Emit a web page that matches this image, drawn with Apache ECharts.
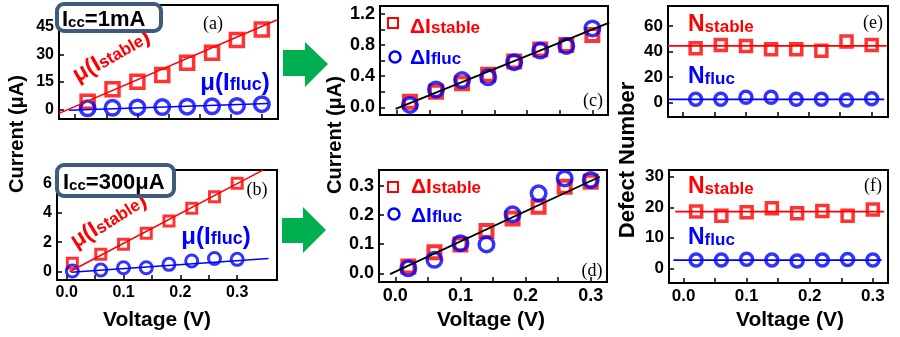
<!DOCTYPE html>
<html>
<head>
<meta charset="utf-8">
<script src="https://cdn.jsdelivr.net/npm/echarts@6/dist/echarts.min.js"></script>
<style>
  html, body { margin: 0; padding: 0; background: #fff; }
  #chart { width: 900px; height: 337px; }
</style>
</head>
<body>
<div id="chart"></div>
<script>
// x values (V)
const voltage = [0.02, 0.06, 0.10, 0.14, 0.18, 0.22, 0.26, 0.30];
const voltageB = [0.01, 0.06, 0.10, 0.14, 0.18, 0.22, 0.26, 0.30];

// (a) Icc = 1mA, mean currents (uA)
const muStableA = [4.1, 10.9, 15.0, 18.7, 25.4, 30.9, 37.8, 43.6];
const muFlucA = [0.5, 0.8, 1.0, 1.2, 1.4, 1.6, 1.8, 2.8];
// (b) Icc = 300uA
const muStableB = [0.57, 1.18, 1.86, 2.6, 3.44, 4.3, 5.08, 5.99];
const muFlucB = [0.05, 0.12, 0.27, 0.27, 0.5, 0.73, 0.9, 0.84];
// (c), (d) amplitudes (uA)
const dStableC = [0.07, 0.2, 0.31, 0.42, 0.59, 0.745, 0.80, 0.93];
const dFlucC = [0.03, 0.23, 0.35, 0.385, 0.58, 0.73, 0.79, 1.015];
const dStableD = [0.023, 0.072, 0.099, 0.145, 0.188, 0.228, 0.297, 0.314];
const dFlucD = [0.017, 0.046, 0.103, 0.099, 0.202, 0.274, 0.325, 0.32];
// (e), (f) defect numbers
const nStableE = [42.5, 45, 44.3, 41.7, 41.7, 40.6, 47.7, 45];
const nFlucE = [2.6, 2.6, 4.2, 4.2, 2.6, 2.6, 2.0, 3.0];
const nStableF = [18.6, 17.2, 18.4, 19.7, 18.0, 18.8, 17.2, 19.3];
const nFlucF = [2.7, 2.7, 3.0, 2.7, 2.4, 2.7, 2.9, 2.7];

// fitted lines, end points
const fitStableA = [[-0.026, -2.2], [0.324, 48.7]];
const fitFlucA = [[-0.01, -0.5], [0.31, 3.2]];
const fitStableB = [[0.005, 0.0], [0.346, 6.9]];
const fitFlucB = [[0.008, -0.04], [0.355, 0.9]];
const fitC = [[-0.002, -0.02], [0.326, 1.09]];
const fitD = [[-0.008, -0.003], [0.314, 0.331]];
const fitStableE = [[-0.024, 44.3], [0.324, 44.3]];
const fitFlucE = [[-0.024, 2.6], [0.32, 2.6]];
const fitStableF = [[-0.013, 18.6], [0.318, 18.6]];
const fitFlucF = [[-0.016, 2.7], [0.314, 2.7]];

// tick labels
const xTickLabels = [0, 0.1, 0.2, 0.3];
const xTickMarks = [0, 0.05, 0.1, 0.15, 0.2, 0.25, 0.3];
const yTicksA = [0, 15, 30, 45];
const yTicksB = [0, 2, 4, 6];
const yTicksC = [0, 0.4, 0.8, 1.2];
const yTicksD = [0, 0.1, 0.2, 0.3];
const yTicksE = [0, 20, 40, 60];
const yTicksF = [0, 10, 20, 30];

const RED = '#ff0000';
const BLUE = '#0000ff';
const GREEN = '#00b050';
const FONT = 'Liberation Sans';

const chart = echarts.init(document.getElementById('chart'));

// panel layout
const panels = [
    { grid: [59, 5, 219, 114], x: [-0.026, 0.326], y: [-5.3, 56.9], labels: yTicksA, ticks: yTicksA, fmt: v => String(v), bottom: false, fs: 16 },
    { grid: [57, 170, 220, 110], x: [-0.017, 0.370], y: [-0.56, 6.89], labels: yTicksB, ticks: yTicksB, fmt: v => String(v), bottom: true, fs: 16 },
    { grid: [380, 6, 228, 109], x: [-0.026, 0.324], y: [-0.099, 1.303], labels: yTicksC, ticks: [0, 0.2, 0.4, 0.6, 0.8, 1.0, 1.2], fmt: v => v.toFixed(1), bottom: false, fs: 18 },
    { grid: [379, 170, 228, 112], x: [-0.025, 0.325], y: [-0.030, 0.354], labels: yTicksD, ticks: yTicksD, fmt: v => v.toFixed(1), bottom: true, fs: 18 },
    { grid: [668, 6, 220, 111], x: [-0.024, 0.326], y: [-11.2, 75.5], labels: yTicksE, ticks: yTicksE, fmt: v => String(v), bottom: false, fs: 17 },
    { grid: [669, 170, 219, 113], x: [-0.023, 0.324], y: [-4.8, 32.2], labels: yTicksF, ticks: yTicksF, fmt: v => String(v), bottom: true, fs: 17 }
];

const grids = panels.map(p => ({
    left: p.grid[0], top: p.grid[1], width: p.grid[2], height: p.grid[3],
    show: true, borderColor: '#000', borderWidth: 2, backgroundColor: 'transparent'
}));

const xAxes = panels.map((p, i) => ({
    type: 'value', gridIndex: i, min: p.x[0], max: p.x[1], position: 'bottom',
    axisLine: { show: false, onZero: false },
    splitLine: { show: false },
    axisTick: { show: true, inside: true, length: 5, customValues: xTickMarks, lineStyle: { color: '#000', width: 1.5 } },
    axisLabel: {
        show: p.bottom, customValues: xTickLabels, formatter: v => v.toFixed(1),
        fontFamily: FONT, fontWeight: 'bold', fontSize: p.fs, color: '#000', margin: 5
    }
}));

const yAxes = panels.map((p, i) => ({
    type: 'value', gridIndex: i, min: p.y[0], max: p.y[1], position: 'left',
    axisLine: { show: false, onZero: false },
    splitLine: { show: false },
    axisTick: { show: true, inside: true, length: 5, customValues: p.ticks, lineStyle: { color: '#000', width: 1.5 } },
    axisLabel: {
        customValues: p.labels, formatter: p.fmt,
        fontFamily: FONT, fontWeight: 'bold', fontSize: p.fs, color: '#000', margin: 5
    }
}));

function pairs(xs, ys) {
    return xs.map((x, i) => [x, ys[i]]);
}

function markers(idx, xs, ys, shape, color, size, bw) {
    return {
        type: 'scatter', xAxisIndex: idx, yAxisIndex: idx,
        data: pairs(xs, ys), symbol: shape, symbolSize: size,
        itemStyle: { color: 'rgba(0,0,0,0)', borderColor: color, borderWidth: bw },
        z: 3, silent: true
    };
}

function fitLine(idx, pts, color, width) {
    return {
        type: 'line', xAxisIndex: idx, yAxisIndex: idx, data: pts,
        symbol: 'none', lineStyle: { color: color, width: width }, z: 4, silent: true
    };
}

const series = [
    markers(0, voltage, muStableA, 'rect', RED, 13, 3.5),
    markers(0, voltage, muFlucA, 'circle', BLUE, 14.5, 3.5),
    fitLine(0, fitStableA, RED, 1.5),
    fitLine(0, fitFlucA, BLUE, 1.5),

    markers(1, voltageB, muStableB, 'rect', RED, 10, 3),
    markers(1, voltageB, muFlucB, 'circle', BLUE, 12, 3),
    fitLine(1, fitStableB, RED, 1.5),
    fitLine(1, fitFlucB, BLUE, 1.5),

    markers(2, voltage, dStableC, 'rect', RED, 12, 4),
    markers(2, voltage, dFlucC, 'circle', BLUE, 14.5, 3.5),
    fitLine(2, fitC, '#000', 1.8),

    markers(3, voltage, dStableD, 'rect', RED, 12, 4),
    markers(3, voltage, dFlucD, 'circle', BLUE, 14.5, 3.5),
    fitLine(3, fitD, '#000', 1.8),

    markers(4, voltage, nStableE, 'rect', RED, 11, 3.5),
    markers(4, voltage, nFlucE, 'circle', BLUE, 12, 3.5),
    fitLine(4, fitStableE, RED, 1.8),
    fitLine(4, fitFlucE, BLUE, 1.8),

    markers(5, voltage, nStableF, 'rect', RED, 11, 3.5),
    markers(5, voltage, nFlucF, 'circle', BLUE, 12, 3.5),
    fitLine(5, fitStableF, RED, 1.8),
    fitLine(5, fitFlucF, BLUE, 1.8)
];

// rich text styles for labels with subscripts
function rich(color, big, small) {
    return {
        b: { fontFamily: FONT, fontWeight: 'bold', fontSize: big, fill: color, color: color, verticalAlign: 'bottom', lineHeight: big + 2 },
        s: { fontFamily: FONT, fontWeight: 'bold', fontSize: small, fill: color, color: color, verticalAlign: 'bottom', lineHeight: big + 2, padding: [0, 0, 1, 0] }
    };
}

function label(x, y, text, color, big, small, rot, align) {
    return {
        type: 'text', x: x, y: y, rotation: rot || 0, z: 50,
        style: { text: text, rich: rich(color, big, small), align: align || 'left', verticalAlign: 'middle' }
    };
}

function plain(x, y, text, font, rot) {
    return {
        type: 'text', x: x, y: y, rotation: rot || 0, z: 50,
        style: { text: text, font: font, fill: '#000', align: 'center', verticalAlign: 'middle' }
    };
}

const tagFont = '18px "Liberation Serif"';
const titleFont = 'bold 20px "Liberation Sans"';

const graphic = [
    // green arrows
    { type: 'polygon', z: 50, shape: { points: [[283, 50], [305, 50], [305, 42], [328, 64], [305, 87], [305, 76], [283, 76]] }, style: { fill: GREEN } },
    { type: 'polygon', z: 50, shape: { points: [[282, 218], [303, 218], [303, 207], [326, 230], [303, 253], [303, 243], [282, 243]] }, style: { fill: GREEN } },

    // condition boxes
    { type: 'rect', z: 60, shape: { x: 57, y: 4, width: 104, height: 27, r: 7 }, style: { fill: '#fff', stroke: '#3e5b7e', lineWidth: 4 } },
    { type: 'rect', z: 60, shape: { x: 57, y: 165, width: 117, height: 31, r: 7 }, style: { fill: '#fff', stroke: '#3e5b7e', lineWidth: 4 } },
    Object.assign(label(62, 19, '{b|I}{s|cc}{b|=1mA}', '#000', 22, 15), { z: 70 }),
    Object.assign(label(63, 182, '{b|I}{s|cc}{b|=300μA}', '#000', 22, 15), { z: 70 }),

    // panel tags
    plain(213, 24, '(a)', tagFont),
    plain(257, 190, '(b)', tagFont),
    plain(593, 101, '(c)', tagFont),
    plain(592, 271, '(d)', tagFont),
    plain(873, 23, '(e)', tagFont),
    plain(873, 186, '(f)', tagFont),

    // in-plot labels (a), (b)
    label(111, 55, '{b|μ(I}{s|stable}{b|)}', RED, 23, 17, 0.52, 'center'),
    label(108, 220, '{b|μ(I}{s|stable}{b|)}', RED, 23, 17, 0.56, 'center'),
    label(235, 82, '{b|μ(I}{s|fluc}{b|)}', BLUE, 24, 18, 0, 'center'),
    label(216, 236, '{b|μ(I}{s|fluc}{b|)}', BLUE, 24, 18, 0, 'center'),

    // legends (c), (d)
    { type: 'rect', z: 50, shape: { x: 388, y: 18, width: 10, height: 10 }, style: { fill: 'none', stroke: RED, lineWidth: 2 } },
    { type: 'circle', z: 50, shape: { cx: 395, cy: 57, r: 5.5 }, style: { fill: 'none', stroke: BLUE, lineWidth: 2.5 } },
    label(410, 26, '{b|ΔI}{s|stable}', RED, 21, 17),
    label(410, 57, '{b|ΔI}{s|fluc}', BLUE, 21, 17),
    { type: 'rect', z: 50, shape: { x: 388, y: 182, width: 10, height: 10 }, style: { fill: 'none', stroke: RED, lineWidth: 2 } },
    { type: 'circle', z: 50, shape: { cx: 394, cy: 214, r: 5.5 }, style: { fill: 'none', stroke: BLUE, lineWidth: 2.5 } },
    label(411, 186, '{b|ΔI}{s|stable}', RED, 21, 17),
    label(411, 215, '{b|ΔI}{s|fluc}', BLUE, 21, 17),

    // labels (e), (f)
    label(688, 24, '{b|N}{s|stable}', RED, 23, 17),
    label(688, 76, '{b|N}{s|fluc}', BLUE, 23, 17),
    label(688, 186, '{b|N}{s|stable}', RED, 23, 17),
    label(688, 237, '{b|N}{s|fluc}', BLUE, 23, 17),

    // axis titles
    plain(17, 134, 'Current (μA)', titleFont, Math.PI / 2),
    plain(335, 135, 'Current (μA)', titleFont, Math.PI / 2),
    plain(628, 160, 'Defect Number', 'bold 22px "Liberation Sans"', Math.PI / 2),
    plain(157, 320, 'Voltage (V)', 'bold 21px "Liberation Sans"'),
    plain(491, 320, 'Voltage (V)', 'bold 21px "Liberation Sans"'),
    plain(790, 320, 'Voltage (V)', 'bold 21px "Liberation Sans"')
];

chart.setOption({
    animation: false,
    backgroundColor: '#fff',
    grid: grids,
    xAxis: xAxes,
    yAxis: yAxes,
    series: series,
    graphic: { elements: graphic }
});
</script>
</body>
</html>
